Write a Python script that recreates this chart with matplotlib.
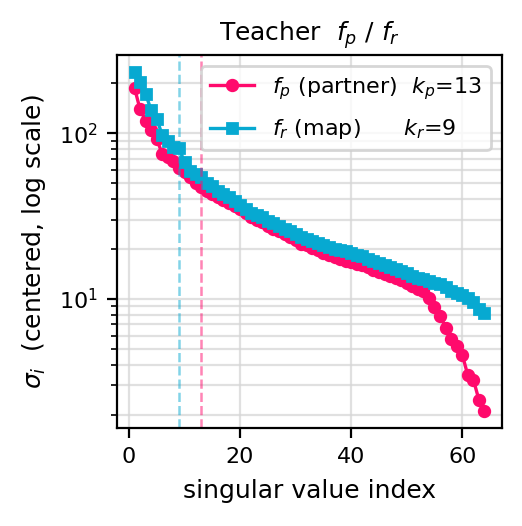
import numpy as np
import matplotlib
matplotlib.use("Agg")
import matplotlib.pyplot as plt

# singular values (index 1..64)
idx = np.arange(1, 65)

sigma_p = [188, 139, 119, 105, 92, 75, 72, 68, 62, 58,
           54, 50, 47, 45, 43, 41, 39.5, 38, 36.5, 35,
           33, 31, 30, 29, 27.5, 26.5, 25.5, 24.5, 23.5, 22.5,
           21.5, 21, 20.3, 19.7, 19, 18.4, 17.9, 17.4, 17, 16.7,
           16.3, 16, 15.5, 15, 14.5, 14.2, 13.8, 13.4, 13, 12.5,
           12, 11.5, 11.1, 10.1, 8.9, 7.9, 6.7, 5.7, 5.2, 4.6,
           3.45, 3.25, 2.45, 2.1]

sigma_r = [234, 204, 173, 137, 122, 97, 90, 83, 81, 67,
           59, 57, 54, 50, 48, 45, 43, 41, 39, 37,
           35, 33, 32, 31, 29.5, 28.5, 27.5, 26.5, 25.5, 24.5,
           23.7, 23, 22.3, 21.7, 21.2, 20.6, 20.1, 19.7, 19.3, 19.0,
           18.5, 18.0, 17.5, 17.0, 16.4, 15.9, 15.6, 15.2, 14.7, 14.4,
           13.7, 13.4, 13.1, 12.8, 12.5, 12.2, 11.8, 11.1, 10.8, 10.6,
           10.1, 9.5, 8.7, 8.2]

k_p = 13
k_r = 9

pink = '#ff0a6c'
cyan = '#07a9d1'

fig = plt.figure(figsize=(522/200, 526/200), dpi=200)
ax = fig.add_axes([117/522, 98/526, 385/522, 373/526])

ax.semilogy(idx, sigma_p, '-o', color=pink, lw=1.2, ms=3.8,
            label='$f_p$ (partner)  $k_p$=13')
ax.semilogy(idx, sigma_r, '-s', color=cyan, lw=1.2, ms=3.8,
            label='$f_r$ (map)      $k_r$=9')
ax.axvline(k_r, color=cyan, ls='--', lw=0.9, alpha=0.5)
ax.axvline(k_p, color=pink, ls='--', lw=0.9, alpha=0.5)

ax.grid(True, which='both', color='#d6d6d6', lw=0.8, alpha=0.75)
ax.set_title('Teacher  $f_p$ / $f_r$', fontsize=9, pad=5)
ax.set_xlabel('singular value index', fontsize=9)
ax.set_ylabel(r'$\sigma_i$  (centered, log scale)', fontsize=9)
ax.tick_params(labelsize=8)
ax.legend(loc='upper right', fontsize=8, labelspacing=0.7)

fig.savefig('out.png', dpi=200)
